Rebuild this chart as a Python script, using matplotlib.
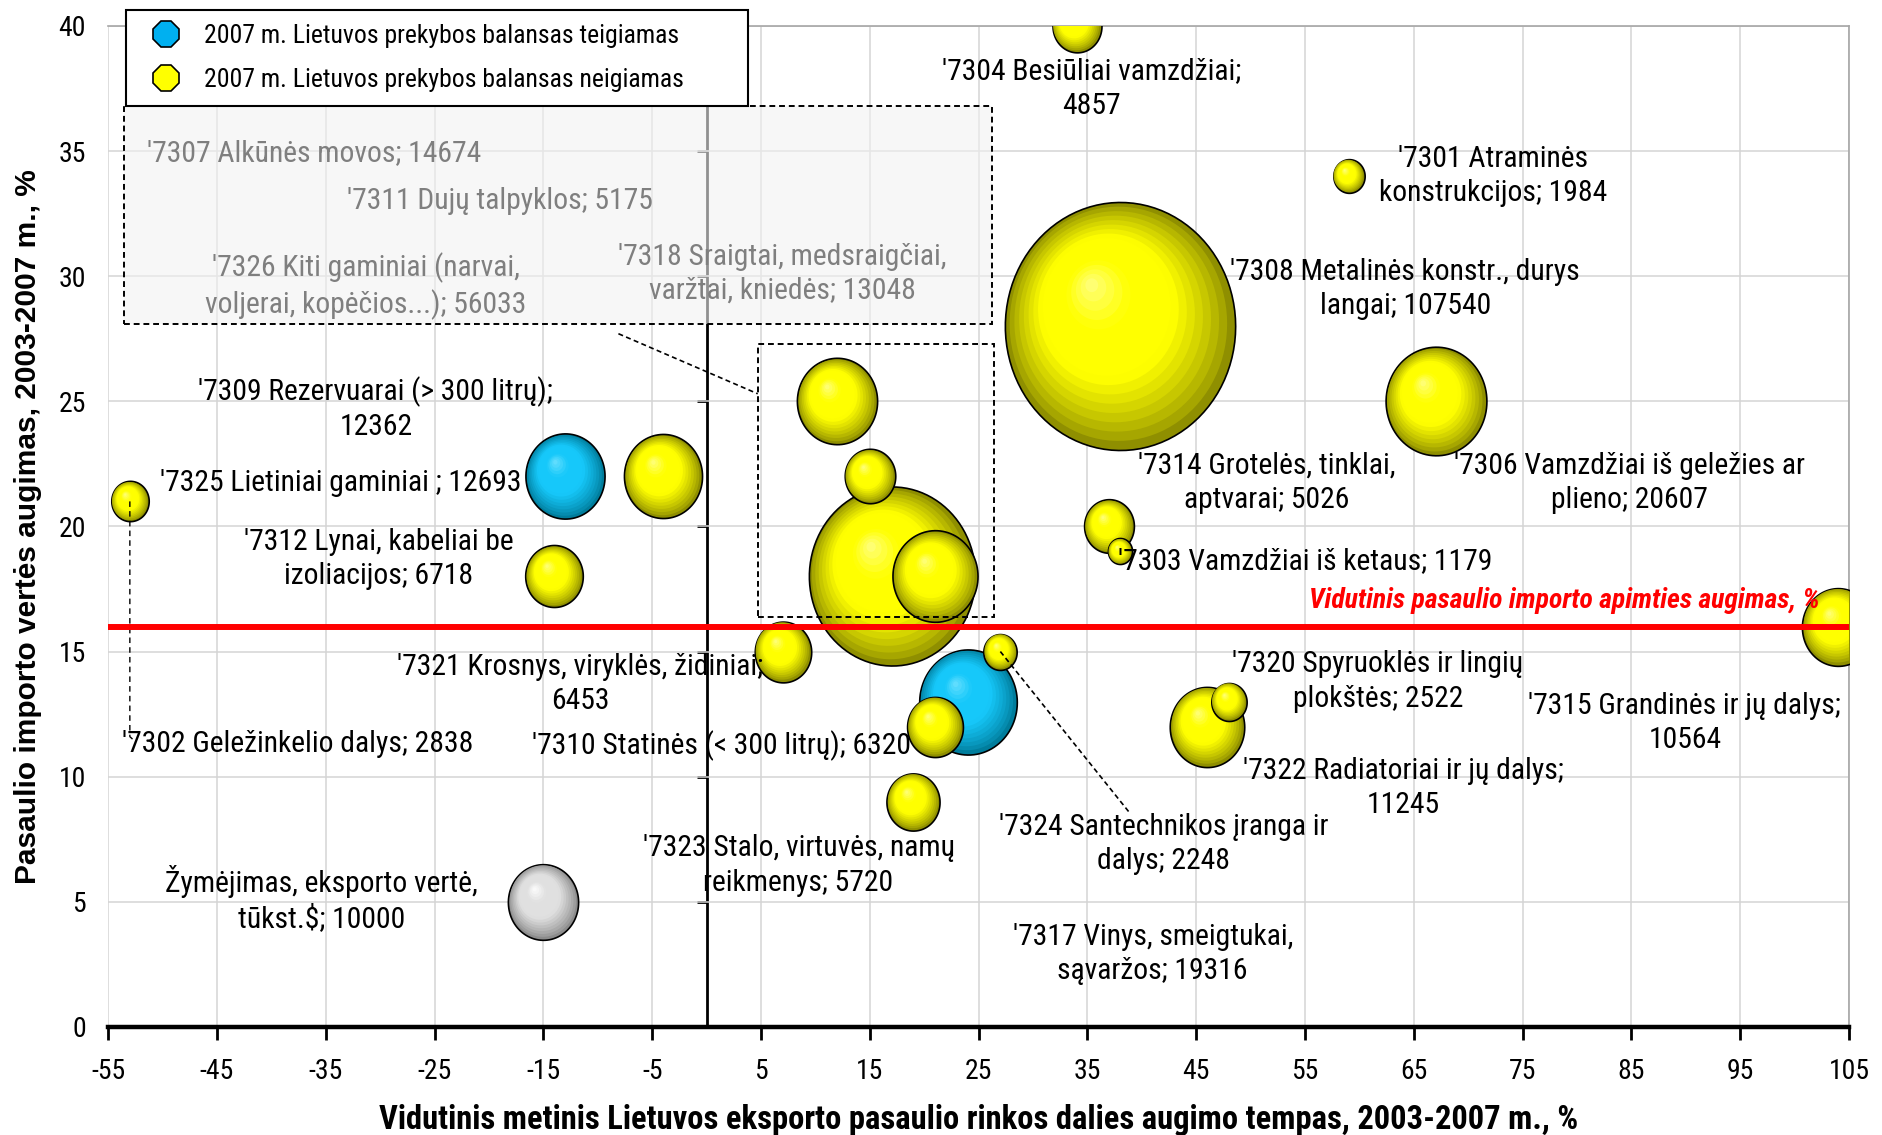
import numpy as np
import matplotlib.pyplot as plt
from matplotlib import font_manager
from matplotlib.path import Path
from matplotlib.patches import Rectangle
from matplotlib.lines import Line2D
from matplotlib.colors import to_rgb
from matplotlib.transforms import ScaledTranslation

# product groups (HS 73xx)
codes = ['7301', '7302', '7303', '7304', '7306', '7307', '7308', '7309', '7310', '7311', '7312',
         '7314', '7315', '7317', '7318', '7320', '7321', '7322', '7323', '7324', '7325', '7326']
export_value = [1984, 2838, 1179, 4857, 20607, 14674, 107540, 12362, 6320, 5175, 6718,
                5026, 10564, 19316, 13048, 2522, 6453, 11245, 5720, 2248, 12693, 56033]
share_growth = [59, -53, 38, 34, 67, 21, 38, -4, 21, 15, -14,
                37, 104, 24, 12, 48, 7, 46, 19, 27, -13, 17]
import_growth = [34, 21, 19, 40, 25, 18, 28, 22, 12, 22, 18,
                 20, 16, 13, 25, 13, 15, 12, 9, 15, 22, 18]
balance_positive = ['7317', '7325']

label_text = {
    '7301': "'7301 Atraminės\nkonstrukcijos; 1984",
    '7302': "'7302 Geležinkelio dalys; 2838",
    '7303': "'7303 Vamzdžiai iš ketaus; 1179",
    '7304': "'7304 Besiūliai vamzdžiai;\n4857",
    '7306': "'7306 Vamzdžiai iš geležies ar\nplieno; 20607",
    '7307': "'7307 Alkūnės movos; 14674",
    '7308': "'7308 Metalinės konstr., durys\nlangai; 107540",
    '7309': "'7309 Rezervuarai (> 300 litrų);\n12362",
    '7310': "'7310 Statinės (< 300 litrų); 6320",
    '7311': "'7311 Dujų talpyklos; 5175",
    '7312': "'7312 Lynai, kabeliai be\nizoliacijos; 6718",
    '7314': "'7314 Grotelės, tinklai,\naptvarai; 5026",
    '7315': "'7315 Grandinės ir jų dalys;\n10564",
    '7317': "'7317 Vinys, smeigtukai,\nsąvaržos; 19316",
    '7318': "'7318 Sraigtai, medsraigčiai,\nvaržtai, kniedės; 13048",
    '7320': "'7320 Spyruoklės ir lingių\nplokštės; 2522",
    '7321': "'7321 Krosnys, viryklės, židiniai;\n6453",
    '7322': "'7322 Radiatoriai ir jų dalys;\n11245",
    '7323': "'7323 Stalo, virtuvės, namų\nreikmenys; 5720",
    '7324': "'7324 Santechnikos įranga ir\ndalys; 2248",
    '7325': "'7325 Lietiniai gaminiai ; 12693",
    '7326': "'7326 Kiti gaminiai (narvai,\nvoljerai, kopėčios...); 56033",
}

# reference bubble
ref_value = 10000
ref_x, ref_y = -15, 5
ref_label = "Žymėjimas, eksporto vertė,\ntūkst.$; 10000"

world_import_avg = 16

# where the labels sit (data coords, centre)
label_pos = {
    '7301': (72.3, 34.0), '7302': (-37.6, 11.3), '7303': (55.0, 18.6), '7304': (35.4, 37.5),
    '7306': (84.8, 21.75), '7307': (-36.1, 34.9), '7308': (64.2, 29.5), '7309': (-30.4, 24.7),
    '7310': (1.4, 11.25), '7311': (-19.0, 33.0), '7312': (-30.1, 18.7), '7314': (51.5, 21.75),
    '7315': (89.9, 12.15), '7317': (41.0, 2.9), '7318': (7.0, 30.1), '7320': (61.7, 13.8),
    '7321': (-11.6, 13.7), '7322': (64.0, 9.55), '7323': (8.45, 6.45), '7324': (42.0, 7.3),
    '7325': (-33.6, 21.75), '7326': (-31.3, 29.6),
}
grey_labels = ['7307', '7311', '7326', '7318']

# narrow font if one exists, otherwise regular Liberation Sans a bit smaller
installed = {f.name for f in font_manager.fontManager.ttflist}
scale = 1.0
for fam in ['Liberation Sans Narrow', 'Arial Narrow', 'Roboto Condensed', 'DejaVu Sans Condensed']:
    if fam in installed:
        NARROW = fam
        break
else:
    NARROW = 'Liberation Sans'
    scale = 0.8
plt.rcParams['font.family'] = [NARROW, 'DejaVu Sans']

fig = plt.figure(figsize=(18.83, 11.35), dpi=100)
ax = fig.add_axes([0.0574, 0.0952, 0.9246, 0.882])

# ellipse marker, a bit taller than wide (like the original)
aspect = 1.077
t = np.linspace(0, 2 * np.pi, 100)
ell = Path(np.column_stack([np.cos(t) / aspect, np.sin(t)]), closed=True)
size_k = 31890 / max(export_value)

def blend(c1, c2, a):
    c1, c2 = np.array(to_rgb(c1)), np.array(to_rgb(c2))
    return tuple(c1 * (1 - a) + c2 * a)

def bubble(x, y, value, edge, mid, light, z):
    s = value * size_k
    r_pt = np.sqrt(s) / 2
    n = 18
    for k in range(n):
        f = 1 - k / n
        if f > 0.6:
            col = blend(edge, mid, ((1 - f) / 0.4) ** 0.8)
        elif f > 0.3:
            col = mid
        else:
            col = blend(mid, light, (0.3 - f) / 0.3)
        dx = -(1 - f) * 0.26 * r_pt / aspect / 72
        dy = (1 - f) * 0.35 * r_pt / 72
        tr = ax.transData + ScaledTranslation(dx, dy, fig.dpi_scale_trans)
        ax.scatter([x], [y], s=s * f ** 2, marker=ell, color=col, transform=tr,
                   edgecolors='black' if k == 0 else 'none', linewidths=1.2 if k == 0 else 0,
                   zorder=z + k * 0.001)

order = np.argsort(export_value)[::-1]
for j, i in enumerate(order):
    if codes[i] in balance_positive:
        bubble(share_growth[i], import_growth[i], export_value[i], '#007d9c', '#16c8fa', '#6fe2ff', 2 + j * 0.1)
    else:
        bubble(share_growth[i], import_growth[i], export_value[i], '#8f8f00', '#ffff00', '#ffff8c', 2 + j * 0.1)
bubble(ref_x, ref_y, ref_value, '#8c8c8c', '#e0e0e0', '#ffffff', 2)

# labels
fs = 21.3 * scale
for c in codes:
    lx, ly = label_pos[c]
    ax.text(lx, ly, label_text[c], ha='center', va='center', fontsize=fs, linespacing=1.28,
            color='#7f7f7f' if c in grey_labels else 'black', zorder=6)
ax.text(-35.4, 5.1, ref_label, ha='center', va='center', fontsize=fs, linespacing=1.28, zorder=6)

# grey box with hidden-bubble labels + dashed frames / leaders
ax.add_patch(Rectangle((-53.5, 28.1), 79.7, 8.7, facecolor='#f2f2f2', alpha=0.6,
                       edgecolor='none', zorder=1))
ax.add_patch(Rectangle((-53.5, 28.1), 79.7, 8.7, facecolor='none', edgecolor='black',
                       linestyle=(0, (3, 2)), linewidth=1.4, zorder=1.1))
ax.add_patch(Rectangle((4.7, 16.4), 21.7, 10.9, facecolor='none', edgecolor='black',
                       linestyle=(0, (3, 2)), linewidth=1.4, zorder=7))
ax.plot([-8.1, 4.7], [27.7, 25.3], color='black', linestyle=(0, (3, 2)), linewidth=1.2, zorder=7)
ax.plot([-53, -53, -52.5], [21, 11.6, 11.4], color='black', linestyle=(0, (4, 3)), linewidth=1.0, zorder=7)
ax.plot([27, 38.8], [15, 8.6], color='black', linestyle=(0, (3, 2)), linewidth=1.2, zorder=7)

# average world import growth
ax.axhline(world_import_avg, color='#ff0000', linewidth=4.3, zorder=8)
ax.text(102.3, 17.05, 'Vidutinis pasaulio importo apimties augimas, %', color='#ff0000',
        fontsize=20 * scale, fontweight='bold', fontstyle='italic', ha='right', va='center', zorder=8)

# axes
ax.set_xlim(-55, 105)
ax.set_ylim(0, 40)
ax.set_xticks(np.arange(-55, 106, 10))
ax.set_yticks(np.arange(0, 41, 5))
ax.set_xticklabels([str(v) for v in np.arange(-55, 106, 10)])
ax.set_axisbelow(True)
ax.grid(True, color='#d4d4d4', linewidth=1.1)
ax.tick_params(axis='x', direction='out', length=9, width=2, labelsize=20 * scale, pad=13)
ax.tick_params(axis='y', length=0, labelsize=20 * scale, pad=16)
for side in ['top', 'right']:
    ax.spines[side].set_color('#a6a6a6')
    ax.spines[side].set_linewidth(1.2)
ax.spines['left'].set_visible(False)
ax.spines['bottom'].set_linewidth(3.2)

sec = ax.secondary_yaxis(55 / 160)
sec.set_yticks(np.arange(0, 41, 5))
sec.set_yticklabels([])
sec.tick_params(direction='out', length=7, width=2)
sec.spines['left'].set_linewidth(2)

ax.set_xlabel('Vidutinis metinis Lietuvos eksporto pasaulio rinkos dalies augimo tempas, 2003-2007 m., %',
              fontsize=23.5 * scale, fontweight='bold', labelpad=14)
ax.set_ylabel('Pasaulio importo vertės augimas, 2003-2007 m., %', fontsize=21.5,
              fontweight='bold', family=['Liberation Sans', 'DejaVu Sans'], labelpad=12)

handles = [Line2D([], [], marker='8', linestyle='none', markersize=20, markerfacecolor='#00b0f0',
                  markeredgecolor='black', markeredgewidth=1.2),
           Line2D([], [], marker='8', linestyle='none', markersize=20, markerfacecolor='#ffff00',
                  markeredgecolor='black', markeredgewidth=1.2)]
leg = fig.legend(handles, ['2007 m. Lietuvos prekybos balansas teigiamas',
                           '2007 m. Lietuvos prekybos balansas neigiamas'],
                 loc='upper left', bbox_to_anchor=(0.0669, 0.908, 0.3303, 0.083), mode='expand',
                 fontsize=18.5 * scale, frameon=True,
                 fancybox=False, edgecolor='black', framealpha=1, borderpad=0.55, labelspacing=0.75,
                 handletextpad=0.5, borderaxespad=0)
leg.get_frame().set_linewidth(1.5)
leg.set_zorder(20)

fig.savefig('out.png', dpi=100)
